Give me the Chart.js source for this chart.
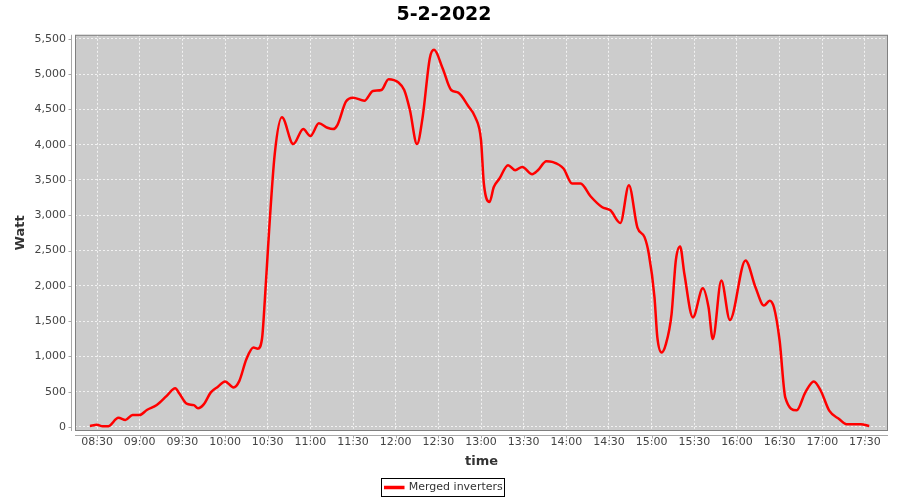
<!DOCTYPE html>
<html>
<head>
<meta charset="utf-8">
<title>5-2-2022</title>
<script src="https://cdn.jsdelivr.net/npm/chart.js@4.4.1/dist/chart.umd.min.js"></script>
<style>
  html, body { margin: 0; padding: 0; background: #fff; }
</style>
</head>
<body>
<canvas id="myChart" width="900" height="500"></canvas>
<script>
// readings of the "Merged inverters" series (time of day, watt)
const times = [
  "08:25", "08:30", "08:34", "08:38", "08:45", "08:50", "08:55", "09:00", "09:05", "09:12",
  "09:19", "09:25", "09:28", "09:33", "09:38", "09:41", "09:45", "09:50", "09:55", "10:00",
  "10:06", "10:10", "10:15", "10:20", "10:23", "10:26", "10:28", "10:31", "10:35", "10:40",
  "10:48", "10:55", "11:00", "11:06", "11:12", "11:16", "11:19", "11:25", "11:30", "11:38",
  "11:44", "11:50", "11:55", "12:02", "12:06", "12:10", "12:15", "12:19", "12:24", "12:27",
  "12:33", "12:39", "12:44", "12:51", "12:56", "13:00", "13:02", "13:06", "13:09", "13:13",
  "13:19", "13:24", "13:29", "13:36", "13:40", "13:46", "13:50", "13:58", "14:04", "14:10",
  "14:17", "14:25", "14:31", "14:38", "14:44", "14:50", "14:55", "14:58", "15:02", "15:04",
  "15:07", "15:10", "15:14", "15:17", "15:20", "15:23", "15:29", "15:36", "15:40", "15:43",
  "15:49", "15:55", "16:06", "16:13", "16:19", "16:23", "16:26", "16:30", "16:34", "16:42",
  "16:48", "16:54", "16:59", "17:05", "17:12", "17:17", "17:27", "17:33"
];
const watts = [
  14, 30, 10, 12, 130, 100, 170, 170, 240, 310,
  440, 550, 470, 330, 310, 265, 320, 490, 570, 645,
  560, 650, 960, 1125, 1110, 1250, 1800, 2786, 3876, 4387,
  4008, 4221, 4122, 4302, 4240, 4221, 4278, 4610, 4666, 4623,
  4761, 4775, 4927, 4880, 4775, 4491, 4008, 4396, 5226, 5344,
  5084, 4775, 4737, 4548, 4387, 4065, 3450, 3188, 3400, 3520,
  3710, 3638, 3685, 3582, 3638, 3766, 3757, 3662, 3450, 3450,
  3269, 3117, 3070, 2890, 3425, 2824, 2690, 2455, 1838, 1270,
  1056, 1175, 1600, 2360, 2558, 2170, 1553, 1966, 1696, 1246,
  2075, 1516, 2360, 1980, 1720, 1790, 1696, 1222, 416, 237,
  488, 645, 510, 227, 110, 38, 38, 14
];
const xTickLabels = [
  "08:30", "09:00", "09:30", "10:00", "10:30", "11:00", "11:30", "12:00", "12:30", "13:00",
  "13:30", "14:00", "14:30", "15:00", "15:30", "16:00", "16:30", "17:00", "17:30"
];
const yTickValues = [0, 500, 1000, 1500, 2000, 2500, 3000, 3500, 4000, 4500, 5000, 5500];

function toMinutes(hhmm) {
  const parts = hhmm.split(":");
  return parseInt(parts[0], 10) * 60 + parseInt(parts[1], 10);
}
function toHHMM(mins) {
  const h = Math.floor(mins / 60);
  const m = Math.round(mins % 60);
  return String(h).padStart(2, "0") + ":" + String(m).padStart(2, "0");
}

const points = times.map((t, i) => ({ x: toMinutes(t), y: watts[i] }));

Chart.defaults.font.family = "'DejaVu Sans', sans-serif";

// grey plot background, outline, offset axis lines and legend frame
const plotFrame = {
  id: "plotFrame",
  beforeDraw(chart) {
    const { ctx, chartArea: a } = chart;
    ctx.save();
    ctx.fillStyle = "#cccccc";
    ctx.fillRect(a.left, a.top, a.right - a.left, a.bottom - a.top);
    ctx.restore();
  },
  afterDraw(chart) {
    const { ctx, chartArea: a } = chart;
    const xs = chart.scales.x;
    const ys = chart.scales.y;
    ctx.save();
    ctx.strokeStyle = "#808080";
    ctx.lineWidth = 1;
    ctx.strokeRect(a.left + 0.5, a.top + 0.5, a.right - a.left - 1, a.bottom - a.top - 1);

    ctx.strokeStyle = "#a8a8a8";
    ctx.beginPath();
    // y axis
    const ax = Math.round(a.left - 4) + 0.5;
    ctx.moveTo(ax, a.top);
    ctx.lineTo(ax, a.bottom);
    ys.ticks.forEach(t => {
      const py = Math.round(ys.getPixelForValue(t.value)) + 0.5;
      ctx.moveTo(ax - 3, py);
      ctx.lineTo(ax, py);
    });
    // x axis
    const ay = Math.round(a.bottom + 4) + 0.5;
    ctx.moveTo(a.left, ay);
    ctx.lineTo(a.right, ay);
    xs.ticks.forEach(t => {
      const px = Math.round(xs.getPixelForValue(t.value)) + 0.5;
      ctx.moveTo(px, ay);
      ctx.lineTo(px, ay + 3);
    });
    ctx.stroke();

    // legend frame
    const hb = chart.legend && chart.legend.legendHitBoxes && chart.legend.legendHitBoxes[0];
    if (hb) {
      ctx.strokeStyle = "#000";
      ctx.strokeRect(Math.round(hb.left - 4) + 0.5, Math.round(hb.top - 4) + 0.5,
        Math.round(hb.width + 6), Math.round(hb.height + 7));
    }
    ctx.restore();
  }
};

const ctx = document.getElementById("myChart").getContext("2d");
const myChart = new Chart(ctx, {
  type: "line",
  data: {
    datasets: [
      {
        label: "Merged inverters",
        data: points,
        borderColor: "#ff0000",
        backgroundColor: "#ff0000",
        borderWidth: 2.5,
        pointRadius: 0,
        cubicInterpolationMode: "monotone",
        fill: false
      }
    ]
  },
  options: {
    responsive: false,
    animation: false,
    devicePixelRatio: 1,
    layout: { padding: { left: 0, right: 12, top: 0, bottom: -3 } },
    plugins: {
      title: {
        display: true,
        text: "5-2-2022",
        color: "#000",
        font: { size: 19, weight: "bold" },
        padding: { top: 4, bottom: 8 }
      },
      legend: {
        display: true,
        position: "bottom",
        labels: {
          color: "#333",
          font: { size: 11 },
          boxWidth: 18,
          boxHeight: 1,
          padding: 6
        }
      },
      tooltip: { enabled: false }
    },
    scales: {
      x: {
        type: "linear",
        min: 494.5,
        max: 1066.2,
        border: { display: false, dash: [2, 2] },
        grid: {
          color: "rgba(255,255,255,0.75)",
          drawTicks: false
        },
        ticks: {
          color: "#444",
          font: { size: 11 },
          padding: 5,
          maxRotation: 0,
          callback: v => toHHMM(v)
        },
        afterBuildTicks: axis => {
          axis.ticks = xTickLabels.map(l => ({ value: toMinutes(l) }));
        },
        afterFit: axis => { axis.height = 45; },
        title: {
          display: true,
          text: "time",
          color: "#333",
          font: { size: 13, weight: "bold" },
          padding: { top: 0, bottom: 7 }
        }
      },
      y: {
        type: "linear",
        min: -57,
        max: 5557,
        border: { display: false, dash: [2, 2] },
        grid: {
          color: "rgba(255,255,255,0.75)",
          drawTicks: false
        },
        ticks: {
          color: "#444",
          font: { size: 11 },
          padding: 9,
          callback: v => v.toLocaleString("en-US")
        },
        afterBuildTicks: axis => {
          axis.ticks = yTickValues.map(v => ({ value: v }));
        },
        afterFit: axis => { axis.width = 75; },
        title: {
          display: true,
          text: "Watt",
          color: "#333",
          font: { size: 13, weight: "bold" },
          padding: { top: 13, bottom: 0 }
        }
      }
    }
  },
  plugins: [plotFrame]
});
</script>
</body>
</html>
